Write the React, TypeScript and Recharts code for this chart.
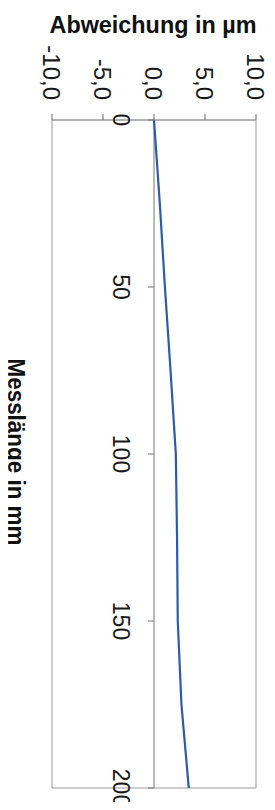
import { LineChart, Line, XAxis, YAxis, ReferenceLine } from "recharts";

// Messlänge (mm) and Abweichung (µm)
const MESS_MM = [0, 25, 50, 75, 100, 125, 150, 175, 200];
const ABWEICHUNG_UM = [0, 0.57, 1.07, 1.62, 2.14, 2.26, 2.33, 2.69, 3.41];

const X_TICKS = [-10, -5, 0, 5, 10];
const Y_TICKS = [0, 50, 100, 150, 200];

const X_TITLE = "Abweichung in µm";
const Y_TITLE = "Messlänge in mm";

const FONT = "'Liberation Sans', Arial, sans-serif";
const ZERO_X = 154;
const AXIS_TOP = 120;

const data = MESS_MM.map((mm, i) => ({ mm, dev: ABWEICHUNG_UM[i] }));

const fmt = (v: number) => v.toFixed(1).replace(".", ",");

function XTick({ x, payload }: any) {
  const bx = x - 9;
  const by = AXIS_TOP - 20;
  return (
    <text
      x={bx}
      y={by}
      transform={`rotate(90, ${bx}, ${by})`}
      textAnchor="end"
      fontSize={24}
      fontFamily={FONT}
      fill="#1a1a1a"
    >
      {fmt(payload.value)}
    </text>
  );
}

function YTick({ y, payload }: any) {
  const bx = 113;
  return (
    <g>
      <line x1={ZERO_X - 6} x2={ZERO_X} y1={y} y2={y} stroke="#777" />
      <text
        x={bx}
        y={y}
        transform={`rotate(90, ${bx}, ${y})`}
        textAnchor="middle"
        fontSize={23}
        fontFamily={FONT}
        fill="#1a1a1a"
      >
        {payload.value}
      </text>
    </g>
  );
}

export default function App() {
  return (
    <div style={{ margin: -8, width: 275, height: 810, background: "#fff" }}>
      <LineChart
        width={275}
        height={810}
        data={data}
        layout="vertical"
        margin={{ top: 50, right: 19, bottom: 22, left: 51 }}
      >
        <XAxis
          type="number"
          dataKey="dev"
          orientation="top"
          domain={[-10, 10]}
          ticks={X_TICKS}
          height={70}
          stroke="#666"
          tickSize={6}
          tick={<XTick />}
          label={{
            content: () => (
              <text
                x={153}
                y={33}
                textAnchor="middle"
                fontSize={23}
                fontWeight="bold"
                fontFamily={FONT}
                fill="#111"
                textLength={207}
                lengthAdjust="spacingAndGlyphs"
              >
                {X_TITLE}
              </text>
            ),
          }}
        />
        <YAxis
          type="number"
          dataKey="mm"
          domain={[0, 200]}
          ticks={Y_TICKS}
          width={1}
          axisLine={false}
          tickLine={false}
          tick={<YTick />}
          label={{
            content: () => (
              <text
                x={8}
                y={452}
                transform="rotate(90, 8, 452)"
                textAnchor="middle"
                fontSize={23}
                fontWeight="bold"
                fontFamily={FONT}
                fill="#111"
                textLength={187}
                lengthAdjust="spacingAndGlyphs"
              >
                {Y_TITLE}
              </text>
            ),
          }}
        />
        <ReferenceLine x={-10} stroke="#999" />
        <ReferenceLine x={10} stroke="#999" />
        <ReferenceLine y={200} stroke="#999" />
        <ReferenceLine x={0} stroke="#777" />
        <Line
          dataKey="dev"
          type="linear"
          stroke="#2a5caa"
          strokeWidth={2.2}
          dot={false}
          isAnimationActive={false}
        />
      </LineChart>
    </div>
  );
}
